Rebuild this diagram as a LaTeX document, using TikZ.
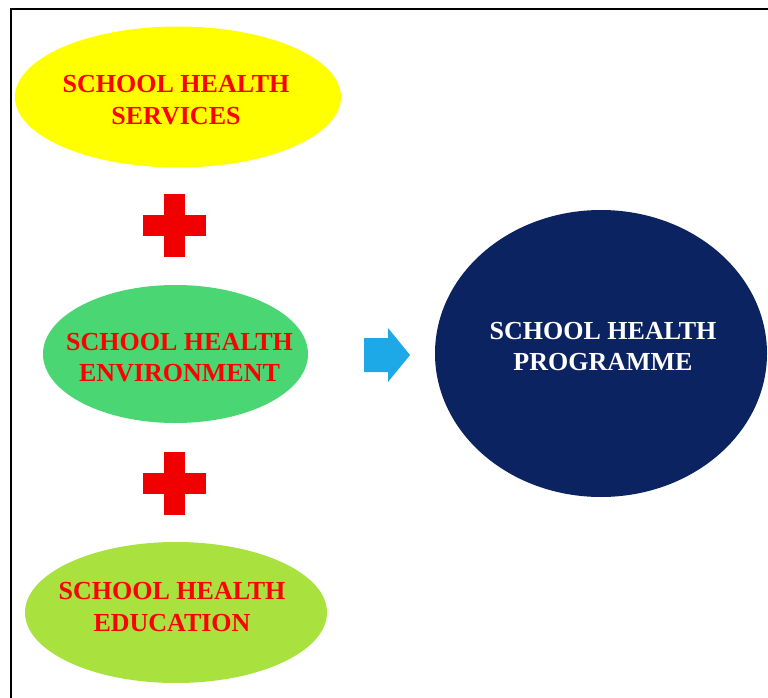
\documentclass[tikz,border=0pt]{standalone}
\usepackage{fontspec}
\setmainfont{Liberation Serif}
\usetikzlibrary{shapes.geometric}
\definecolor{shyellow}{HTML}{FFFF00}
\definecolor{shgreen}{HTML}{4AD672}
\definecolor{shlime}{HTML}{A9E23F}
\definecolor{shnavy}{HTML}{0B2461}
\definecolor{shcyan}{HTML}{1DA8E8}
\definecolor{shred}{HTML}{FF0000}
\tikzset{
  blob/.style={ellipse, inner sep=0pt},
  part/.style={inner sep=0pt, align=center, text=shred,
    font=\fontsize{26}{31.5}\selectfont\bfseries},
  whole/.style={part, text=white},
  plussign/.style={fill=shred!94!black}
}
\begin{document}
\begin{tikzpicture}[x=1pt, y=-1pt]
  \useasboundingbox (0,0) rectangle (768,698);
  \fill[white] (0,0) rectangle (768,698);
  \draw[line width=2.8pt] (11,698) -- (11,9) -- (768,9);
  \draw
    (178,97) node[blob, fill=shyellow, minimum width=326pt, minimum height=141pt] (services) {}
    (175.5,354) node[blob, fill=shgreen, minimum width=265pt, minimum height=138pt] (environment) {}
    (176,612.5) node[blob, fill=shlime, minimum width=302pt, minimum height=141pt] (education) {}
    (601,353.5) node[blob, fill=shnavy, minimum width=332pt, minimum height=287pt] (programme) {};
  \draw
    (176,100) node[part] (servicesText) {SCHOOL HEALTH\\SERVICES}
    (179.5,357.5) node[part] (environmentText) {SCHOOL HEALTH\\ENVIRONMENT}
    (172,607) node[part] (educationText) {SCHOOL HEALTH\\EDUCATION}
    (603,346.5) node[whole] (programmeText) {SCHOOL HEALTH\\PROGRAMME};
  \coordinate (plusA) at (174.5,225.5);
  \coordinate (plusB) at (174.5,483);
  \coordinate (go) at (364,355);
  \begin{scope}
    \fill[plussign] ([shift={(-31.5,-10.5)}]plusA) rectangle ([shift={(31.5,10.5)}]plusA);
    \fill[plussign] ([shift={(-10.5,-31.5)}]plusA) rectangle ([shift={(10.5,31.5)}]plusA);
    \fill[plussign] ([shift={(-31.5,-10.5)}]plusB) rectangle ([shift={(31.5,10.5)}]plusB);
    \fill[plussign] ([shift={(-10.5,-31.5)}]plusB) rectangle ([shift={(10.5,31.5)}]plusB);
    \fill[shcyan] (go) ++(0,-17) -- ++(24,0) -- ++(0,-10) -- ++(22,27)
      -- ++(-22,27) -- ++(0,-10) -- ++(-24,0) -- cycle;
  \end{scope}
\end{tikzpicture}
\end{document}
